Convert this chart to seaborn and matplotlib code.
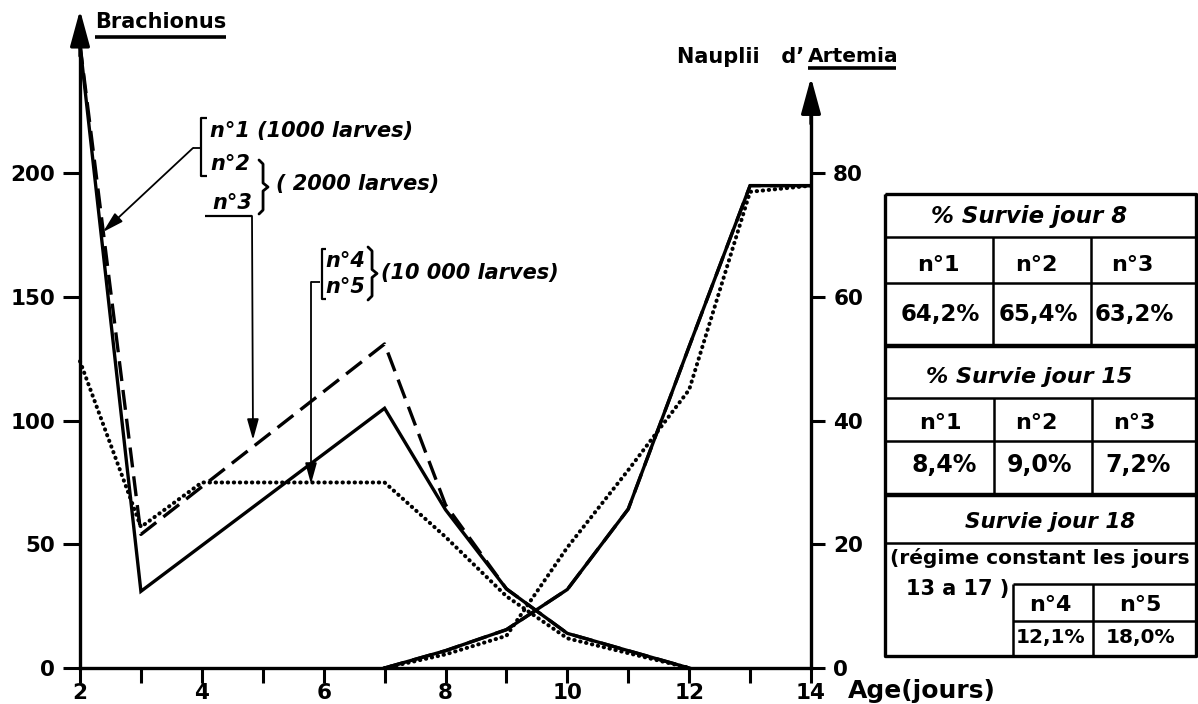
import matplotlib
matplotlib.use("Agg")
import matplotlib.pyplot as plt
import seaborn as sns
import pandas as pd
from matplotlib.lines import Line2D

# ---------------- data ----------------
brach_x_n1 = [2, 3, 7, 8, 9, 10, 11, 12]
brach_n1 = [252, 31, 105, 64, 32, 14, 7, 0]
brach_x_n23 = [2, 3, 7, 8, 9, 10, 11, 12]
brach_n23 = [252, 54, 131, 66, 32, 14, 7, 0]
brach_x_n45 = [2, 3, 4, 7, 8, 9, 10, 11, 12]
brach_n45 = [124, 57, 75, 75, 53, 29, 12, 6, 0]

art_x = [7, 8, 9, 10, 11, 12, 13, 14]
art_n123 = [0, 2.8, 6.2, 12.7, 25.7, 52, 78, 78]
art_n45 = [0, 2.2, 5.2, 19.5, 32, 45, 77, 78]

x_ticks = list(range(2, 15))
x_labels = ["2", "", "4", "", "6", "", "8", "", "10", "", "12", "", "14"]
left_ticks = [0, 50, 100, 150, 200]
right_ticks = [0, 20, 40, 60, 80]

surv8_labels = ["n°1", "n°2", "n°3"]
surv8_values = ["64,2%", "65,4%", "63,2%"]
surv15_labels = ["n°1", "n°2", "n°3"]
surv15_values = ["8,4%", "9,0%", "7,2%"]
surv18_labels = ["n°4", "n°5"]
surv18_values = ["12,1%", "18,0%"]

# ---------------- figure ----------------
W, H = 1198, 704
fig = plt.figure(figsize=(W / 100, H / 100), dpi=100)
FONT = "DejaVu Sans"
plt.rcParams["font.family"] = [FONT]

x0, x1 = 80, 811          # pixel positions of x=2 and x=14
yb, yt = 668, 10          # pixel of y=0 and top of axes
ax = fig.add_axes([x0 / W, (H - yb) / H, (x1 - x0) / W, (yb - yt) / H])
ax.set_xlim(2, 14)
ax.set_ylim(0, 266)
ax2 = ax.twinx()
ax2.set_ylim(0, 266 / 2.5)

solid = dict(color="black", lw=2.4, solid_joinstyle="miter")
dashed = dict(color="black", lw=2.4, linestyle=(0, (6, 2.7)))
dotted = dict(color="black", lw=2.9, linestyle=(0, (0.1, 1.4)), dash_capstyle="round")

df1 = pd.DataFrame({"x": brach_x_n1, "y": brach_n1})
df23 = pd.DataFrame({"x": brach_x_n23, "y": brach_n23})
df45 = pd.DataFrame({"x": brach_x_n45, "y": brach_n45})
dfa = pd.DataFrame({"x": art_x, "a123": art_n123, "a45": art_n45})

sns.lineplot(data=df1, x="x", y="y", ax=ax, sort=False, clip_on=False, **solid)
sns.lineplot(data=df23, x="x", y="y", ax=ax, sort=False, clip_on=False, **dashed)
sns.lineplot(data=df45, x="x", y="y", ax=ax, sort=False, clip_on=False, **dotted)
sns.lineplot(data=dfa, x="x", y="a123", ax=ax2, sort=False, clip_on=False, **solid)
sns.lineplot(data=dfa, x="x", y="a123", ax=ax2, sort=False, clip_on=False, **dashed)
sns.lineplot(data=dfa, x="x", y="a45", ax=ax2, sort=False, clip_on=False, **dotted)

for a in (ax, ax2):
    a.set_xlabel("")
    a.set_ylabel("")
    a.spines["top"].set_visible(False)
    for s in a.spines.values():
        s.set_linewidth(2.4)

ax.spines["right"].set_visible(False)
ax2.spines["left"].set_visible(False)
ax2.spines["bottom"].set_visible(False)
ax.spines["left"].set_bounds(0, 255)
ax2.spines["right"].set_bounds(0, 90)

tick_font = dict(family=FONT, weight="bold", size=15.5)
ax.set_xticks(x_ticks)
ax.set_xticklabels(x_labels, **tick_font)
ax.set_yticks(left_ticks)
ax.set_yticklabels([str(v) for v in left_ticks], **tick_font)
ax2.set_yticks(right_ticks)
ax2.set_yticklabels([str(v) for v in right_ticks], **tick_font)
ax.tick_params(axis="x", direction="out", length=11, width=2.2, pad=0)
ax.tick_params(axis="y", direction="out", length=12, width=2.2, pad=6)
ax2.tick_params(axis="y", direction="out", length=10, width=2.2, pad=6)

# axis arrows
ax.annotate("", xy=(0, 1.0), xycoords="axes fraction", xytext=(0, 0.93),
            arrowprops=dict(arrowstyle="-|>,head_length=1.1,head_width=0.3",
                            mutation_scale=20, lw=2.4, color="black",
                            shrinkA=0, shrinkB=0))
ax2.annotate("", xy=(1, 95.5), xycoords=("axes fraction", "data"), xytext=(1, 88),
             arrowprops=dict(arrowstyle="-|>,head_length=1.1,head_width=0.3",
                             mutation_scale=20, lw=2.4, color="black",
                             shrinkA=0, shrinkB=0))

# ---------------- overlay (pixel coordinates) ----------------
ov = fig.add_axes([0, 0, 1, 1])
ov.set_xlim(0, W)
ov.set_ylim(H, 0)
ov.axis("off")

def txt(x, y, s, size=14, italic=False, ha="left", va="center"):
    ov.text(x, y, s, fontsize=size, fontweight="bold",
            fontstyle="italic" if italic else "normal",
            family=FONT, ha=ha, va=va, color="black")

def line(xs, ys, lw=1.6):
    ov.add_line(Line2D(xs, ys, color="black", lw=lw, solid_capstyle="butt"))

def arrow(xy_from, xy_to, lw=1.3):
    ov.annotate("", xy=xy_to, xytext=xy_from, xycoords="data",
                arrowprops=dict(arrowstyle="-|>,head_length=0.9,head_width=0.25",
                                mutation_scale=14, lw=lw, color="black",
                                shrinkA=0, shrinkB=0))

def brace(x, y1, y2, w=8, lw=2.0):
    ym = (y1 + y2) / 2
    xs = [x, x + w * 0.45, x + w * 0.45, x + w, x + w * 0.45, x + w * 0.45, x]
    ys = [y1, y1 + 4, ym - 4, ym, ym + 4, y2 - 4, y2]
    ov.add_line(Line2D(xs, ys, color="black", lw=lw, solid_joinstyle="round",
                       solid_capstyle="round"))

# titles
txt(95, 22, "Brachionus", size=15)
line([95, 226], [37, 37], lw=2.6)
txt(804, 57, "Nauplii   d’", size=15, ha="right")
txt(808, 57, "Artemia", size=14.5)
line([808, 896], [68, 68], lw=2.6)
txt(848, 691, "Age(jours)", size=18)

# annotation n°1, n°2, n°3
an = 15
line([207, 201, 201, 207], [118, 118, 176, 176])
txt(210, 131, "n°1 (1000 larves)", size=an, italic=True)
txt(210, 164, "n°2", size=an, italic=True)
txt(212, 203, "n°3", size=an, italic=True)
brace(259, 160, 214, w=9)
txt(276, 184, "( 2000 larves)", size=an, italic=True)
line([201, 193], [148, 148], lw=1.3)
arrow((193, 148), (103, 232))
line([205, 252], [216, 216], lw=1.6)
arrow((252, 216), (253, 440))

# annotation n°4, n°5
line([326, 322, 322, 326], [249, 249, 299, 299])
txt(325, 261, "n°4", size=an, italic=True)
txt(325, 287, "n°5", size=an, italic=True)
brace(368, 247, 300, w=9)
txt(381, 273, "(10 000 larves)", size=an, italic=True)
line([320, 311], [282, 282], lw=1.3)
arrow((311, 282), (311, 484))

# ---------------- survival table ----------------
L, R, T, B = 885, 1196, 194, 656
line([L, R, R, L, L], [T, T, B, B, T], lw=2.4)
for yy, lw in [(237, 1.8), (283, 1.8), (346, 3.2), (398, 1.8), (441, 1.8),
               (495, 3.2), (543, 1.8)]:
    line([L, R], [yy, yy], lw=lw)
for xx in (993, 1091):
    line([xx, xx], [237, 346], lw=1.8)
for xx in (994, 1092):
    line([xx, xx], [398, 495], lw=1.8)
line([1013, 1013], [584, B], lw=1.8)
line([1093, 1093], [584, B], lw=1.8)
line([1013, R], [584, 584], lw=1.8)
line([1013, R], [621, 621], lw=1.8)

txt(1029, 216, "% Survie jour 8", size=16.5, italic=True, ha="center")
for cx, lab, val in zip([938, 1036, 1132], surv8_labels, surv8_values):
    txt(cx, 265, lab, size=16, ha="center")
    txt(cx + 2, 315, val, size=16.5, ha="center")
txt(1029, 377, "% Survie jour 15", size=16, italic=True, ha="center")
for cx, lab, val in zip([940, 1036, 1134], surv15_labels, surv15_values):
    txt(cx, 423, lab, size=16, ha="center")
    txt(cx + 4, 465, val, size=17, ha="center")
txt(1050, 522, "Survie jour 18", size=15.5, italic=True, ha="center")
txt(890, 558, "(régime constant les jours", size=14.5)
txt(906, 589, "13 a 17 )", size=15)
for cx, lab, val in zip([1050, 1140], surv18_labels, surv18_values):
    txt(cx, 605, lab, size=16, ha="center")
    txt(cx + 1, 638, val, size=14.5, ha="center")

fig.savefig("out.png", dpi=100)
